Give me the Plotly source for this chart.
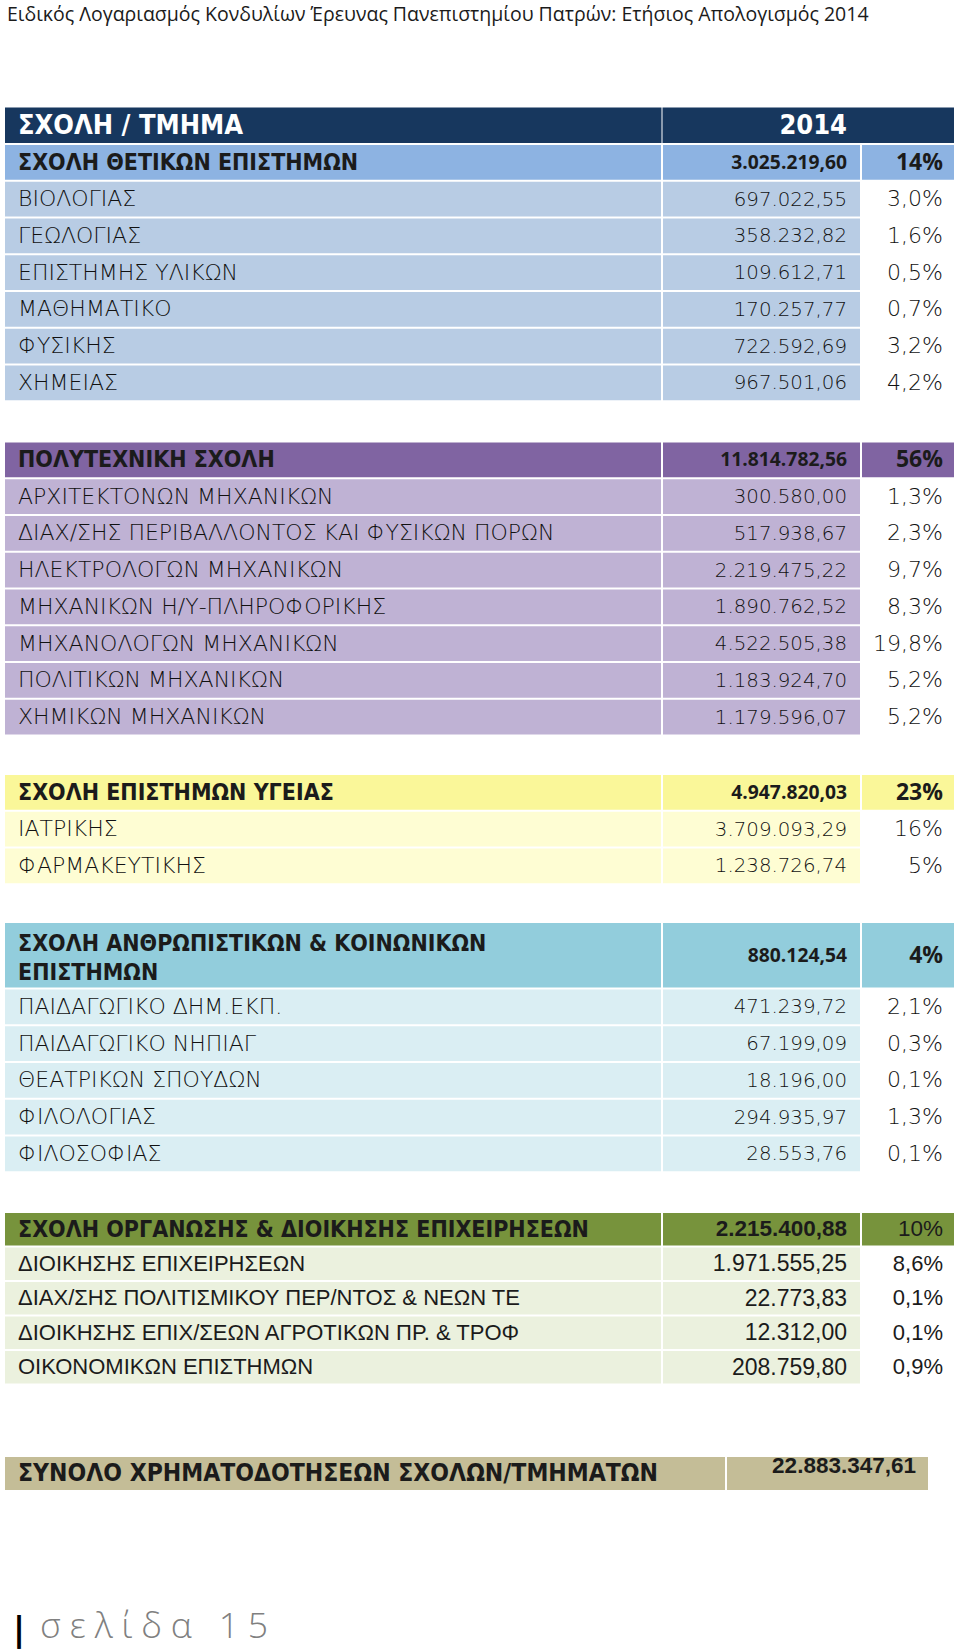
import plotly.graph_objects as go

# ---------------- data ----------------
title_text = "Ειδικός Λογαριασμός Κονδυλίων Έρευνας Πανεπιστημίου Πατρών: Ετήσιος Απολογισμός 2014"
header_labels = ["ΣΧΟΛΗ / ΤΜΗΜΑ", "2014"]

school_names = [
    "ΣΧΟΛΗ ΘΕΤΙΚΩΝ ΕΠΙΣΤΗΜΩΝ",
    "ΠΟΛΥΤΕΧΝΙΚΗ ΣΧΟΛΗ",
    "ΣΧΟΛΗ ΕΠΙΣΤΗΜΩΝ ΥΓΕΙΑΣ",
    "ΣΧΟΛΗ ΑΝΘΡΩΠΙΣΤΙΚΩΝ & ΚΟΙΝΩΝΙΚΩΝ<br>ΕΠΙΣΤΗΜΩΝ",
    "ΣΧΟΛΗ ΟΡΓΑΝΩΣΗΣ & ΔΙΟΙΚΗΣΗΣ ΕΠΙΧΕΙΡΗΣΕΩΝ",
]
school_totals = [3025219.60, 11814782.56, 4947820.03, 880124.54, 2215400.88]
school_pcts = ["14%", "56%", "23%", "4%", "10%"]

thetikon_depts = ["ΒΙΟΛΟΓΙΑΣ", "ΓΕΩΛΟΓΙΑΣ", "ΕΠΙΣΤΗΜΗΣ ΥΛΙΚΩΝ", "ΜΑΘΗΜΑΤΙΚΟ", "ΦΥΣΙΚΗΣ", "ΧΗΜΕΙΑΣ"]
thetikon_values = [697022.55, 358232.82, 109612.71, 170257.77, 722592.69, 967501.06]
thetikon_pcts = ["3,0%", "1,6%", "0,5%", "0,7%", "3,2%", "4,2%"]

poly_depts = ["ΑΡΧΙΤΕΚΤΟΝΩΝ ΜΗΧΑΝΙΚΩΝ", "ΔΙΑΧ/ΣΗΣ ΠΕΡΙΒΑΛΛΟΝΤΟΣ ΚΑΙ ΦΥΣΙΚΩΝ ΠΟΡΩΝ",
              "ΗΛΕΚΤΡΟΛΟΓΩΝ ΜΗΧΑΝΙΚΩΝ", "ΜΗΧΑΝΙΚΩΝ Η/Υ-ΠΛΗΡΟΦΟΡΙΚΗΣ",
              "ΜΗΧΑΝΟΛΟΓΩΝ ΜΗΧΑΝΙΚΩΝ", "ΠΟΛΙΤΙΚΩΝ ΜΗΧΑΝΙΚΩΝ", "ΧΗΜΙΚΩΝ ΜΗΧΑΝΙΚΩΝ"]
poly_values = [300580.00, 517938.67, 2219475.22, 1890762.52, 4522505.38, 1183924.70, 1179596.07]
poly_pcts = ["1,3%", "2,3%", "9,7%", "8,3%", "19,8%", "5,2%", "5,2%"]

ygeias_depts = ["ΙΑΤΡΙΚΗΣ", "ΦΑΡΜΑΚΕΥΤΙΚΗΣ"]
ygeias_values = [3709093.29, 1238726.74]
ygeias_pcts = ["16%", "5%"]

anthr_depts = ["ΠΑΙΔΑΓΩΓΙΚΟ ΔΗΜ.ΕΚΠ.", "ΠΑΙΔΑΓΩΓΙΚΟ ΝΗΠΙΑΓ", "ΘΕΑΤΡΙΚΩΝ ΣΠΟΥΔΩΝ", "ΦΙΛΟΛΟΓΙΑΣ", "ΦΙΛΟΣΟΦΙΑΣ"]
anthr_values = [471239.72, 67199.09, 18196.00, 294935.97, 28553.76]
anthr_pcts = ["2,1%", "0,3%", "0,1%", "1,3%", "0,1%"]

org_depts = ["ΔΙΟΙΚΗΣΗΣ ΕΠΙΧΕΙΡΗΣΕΩΝ", "ΔΙΑΧ/ΣΗΣ ΠΟΛΙΤΙΣΜΙΚΟΥ ΠΕΡ/ΝΤΟΣ & ΝΕΩΝ ΤΕ",
             "ΔΙΟΙΚΗΣΗΣ ΕΠΙΧ/ΣΕΩΝ ΑΓΡΟΤΙΚΩΝ ΠΡ. & ΤΡΟΦ", "ΟΙΚΟΝΟΜΙΚΩΝ ΕΠΙΣΤΗΜΩΝ"]
org_values = [1971555.25, 22773.83, 12312.00, 208759.80]
org_pcts = ["8,6%", "0,1%", "0,1%", "0,9%"]

total_label = "ΣΥΝΟΛΟ ΧΡΗΜΑΤΟΔΟΤΗΣΕΩΝ ΣΧΟΛΩΝ/ΤΜΗΜΑΤΩΝ"
total_value = 22883347.61

footer_text = "σελίδα 15"

# ---------------- styling / layout constants ----------------
W, H = 960, 1651
COND = "DejaVu Sans Condensed"
BODY = "DejaVu Sans"
OPEN = "Open Sans"
ARIAL = "Liberation Sans"
NAVY = "#17375E"
INK = "#1B1B1B"

# column edges (px) and text anchors
C0, C1, C2, C3 = 5, 662, 861, 954
TX_LEFT, TX_NUM, TX_PCT = 18, 847, 943
GAP = 2

sections = [
    dict(depts=thetikon_depts, values=thetikon_values, pcts=thetikon_pcts,
         head="#8DB3E2", row="#B8CCE4", top=145.0, hh=36.75, rh=36.75, arial=False),
    dict(depts=poly_depts, values=poly_values, pcts=poly_pcts,
         head="#8064A2", row="#BFB2D4", top=442.5, hh=36.75, rh=36.75, arial=False),
    dict(depts=ygeias_depts, values=ygeias_values, pcts=ygeias_pcts,
         head="#FAF799", row="#FEFDD3", top=775.0, hh=36.75, rh=36.75, arial=False),
    dict(depts=anthr_depts, values=anthr_values, pcts=anthr_pcts,
         head="#92CDDC", row="#DAEEF3", top=923.0, hh=66.5, rh=36.75, arial=False),
    dict(depts=org_depts, values=org_values, pcts=org_pcts,
         head="#77933C", row="#EBF1DE", top=1213.0, hh=34.6, rh=34.5, arial=True),
]
NAVY_TOP, NAVY_H = 107.5, 37.5
TOTAL_TOP, TOTAL_H, TOTAL_SPLIT, TOTAL_RIGHT = 1457.0, 35.0, 726, 928


def fmt(v):
    s = f"{v:,.2f}"
    return s.replace(",", "X").replace(".", ",").replace("X", ".")


# ---------------- build cells ----------------
cell_base, cell_len, cell_y, cell_h, cell_col = [], [], [], [], []


def add_cell(x0, x1, top, h, color):
    cell_base.append(x0)
    cell_len.append(x1 - x0)
    cell_y.append(top + (h - GAP) / 2)
    cell_h.append(h - GAP)
    cell_col.append(color)


texts = {}  # style key -> lists


def add_text(key, x, y, t):
    d = texts.setdefault(key, dict(x=[], y=[], t=[]))
    d["x"].append(x)
    d["y"].append(y)
    d["t"].append(t)


# navy header row
add_cell(C0, C1 - 0.5, NAVY_TOP, NAVY_H, NAVY)
add_cell(C1 + 0.5, C3, NAVY_TOP, NAVY_H, NAVY)
ny = NAVY_TOP + (NAVY_H - GAP) / 2 + 1.5
add_text("navy_l", TX_LEFT, ny, header_labels[0])
add_text("navy_r", TX_NUM, ny, header_labels[1])

for i, s in enumerate(sections):
    top = s["top"]
    h = s["hh"]
    add_cell(C0, C1 - GAP / 2, top, h, s["head"])
    add_cell(C1 + GAP / 2, C2 - GAP / 2, top, h, s["head"])
    add_cell(C2 + GAP / 2, C3, top, h, s["head"])
    yc = top + (h - GAP) / 2 + 1.5
    sty = "arial" if s["arial"] else "body"
    name_y = yc + (3 if "<br>" in school_names[i] else 0)
    add_text("school_name", TX_LEFT, name_y, school_names[i])
    add_text(f"school_num_{sty}", TX_NUM, yc, fmt(school_totals[i]))
    add_text(f"school_pct_{sty}", TX_PCT, yc, school_pcts[i])
    top += h
    for name, val, pct in zip(s["depts"], s["values"], s["pcts"]):
        rh = s["rh"]
        add_cell(C0, C1 - GAP / 2, top, rh, s["row"])
        add_cell(C1 + GAP / 2, C2 - GAP / 2, top, rh, s["row"])
        yc = top + (rh - GAP) / 2 + 1.5
        add_text(f"dept_name_{sty}", TX_LEFT, yc, name)
        add_text(f"dept_num_{sty}", TX_NUM, yc, fmt(val))
        add_text(f"dept_pct_{sty}", TX_PCT, yc, pct)
        top += rh

# grand total row
add_cell(C0, TOTAL_SPLIT - GAP / 2, TOTAL_TOP, TOTAL_H, "#C4BD97")
add_cell(TOTAL_SPLIT + GAP / 2, TOTAL_RIGHT, TOTAL_TOP, TOTAL_H, "#C4BD97")
add_text("total_l", TX_LEFT, TOTAL_TOP + TOTAL_H / 2 + 0.5, total_label)
add_text("total_r", 916, TOTAL_TOP + TOTAL_H / 2 - 7, fmt(total_value))

styles = {
    "navy_l": ("middle right", dict(family=COND, size=27, color="white", weight="bold")),
    "navy_r": ("middle left", dict(family=COND, size=27, color="white", weight="bold")),
    "school_name": ("middle right", dict(family=COND, size=23, color=INK, weight="bold")),
    "school_num_body": ("middle left", dict(family=OPEN, size=19.3, color=INK, weight="bold")),
    "school_pct_body": ("middle left", dict(family=OPEN, size=23, color=INK, weight="bold")),
    "school_num_arial": ("middle left", dict(family=ARIAL, size=22.5, color=INK, weight="bold")),
    "school_pct_arial": ("middle left", dict(family=ARIAL, size=22.5, color=INK)),
    "dept_name_body": ("middle right", dict(family=BODY, size=22, color="#111111", weight=200)),
    "dept_num_body": ("middle left", dict(family=BODY, size=19.8, color="#111111", weight=200)),
    "dept_pct_body": ("middle left", dict(family=BODY, size=22, color="#111111", weight=200)),
    "dept_name_arial": ("middle right", dict(family=ARIAL, size=22, color=INK)),
    "dept_num_arial": ("middle left", dict(family=ARIAL, size=23, color=INK)),
    "dept_pct_arial": ("middle left", dict(family=ARIAL, size=22, color=INK)),
    "total_l": ("middle right", dict(family=COND, size=24.5, color=INK, weight="bold")),
    "total_r": ("middle left", dict(family=ARIAL, size=22.5, color=INK, weight="bold")),
}

fig = go.Figure()
fig.add_trace(go.Bar(
    orientation="h", base=cell_base, x=cell_len, y=cell_y, width=cell_h,
    marker=dict(color=cell_col, line=dict(width=0)),
    hoverinfo="skip", showlegend=False,
))
for key, d in texts.items():
    pos, font = styles[key]
    fig.add_trace(go.Scatter(
        x=d["x"], y=d["y"], text=d["t"], mode="text", textposition=pos,
        textfont=font, hoverinfo="skip", showlegend=False, cliponaxis=False,
    ))

fig.add_annotation(text=title_text, x=5, y=13, xref="x", yref="y",
                   xanchor="left", yanchor="middle", showarrow=False,
                   font=dict(family=OPEN, size=19.5, color="#1B1B1B"))
fig.add_annotation(text="<b>|</b>", x=11, y=1629, xref="x", yref="y",
                   xanchor="left", yanchor="middle", showarrow=False,
                   font=dict(family="DejaVu Sans", size=33, color="#000000"))
fig.add_annotation(text="\u2005".join(list(footer_text)), x=38, y=1624, xref="x", yref="y",
                   xanchor="left", yanchor="middle", showarrow=False,
                   font=dict(family=OPEN, size=35.5, color="#808080", weight=300))

fig.update_layout(
    width=W, height=H, margin=dict(l=0, r=0, t=0, b=0),
    paper_bgcolor="white", plot_bgcolor="white", barmode="overlay",
    xaxis=dict(range=[0, W], visible=False, fixedrange=True),
    yaxis=dict(range=[H, 0], visible=False, fixedrange=True),
)
fig.write_html("out.html", config={"displayModeBar": False},
               post_script="document.body.style.margin='0px';document.body.style.overflow='hidden';")
